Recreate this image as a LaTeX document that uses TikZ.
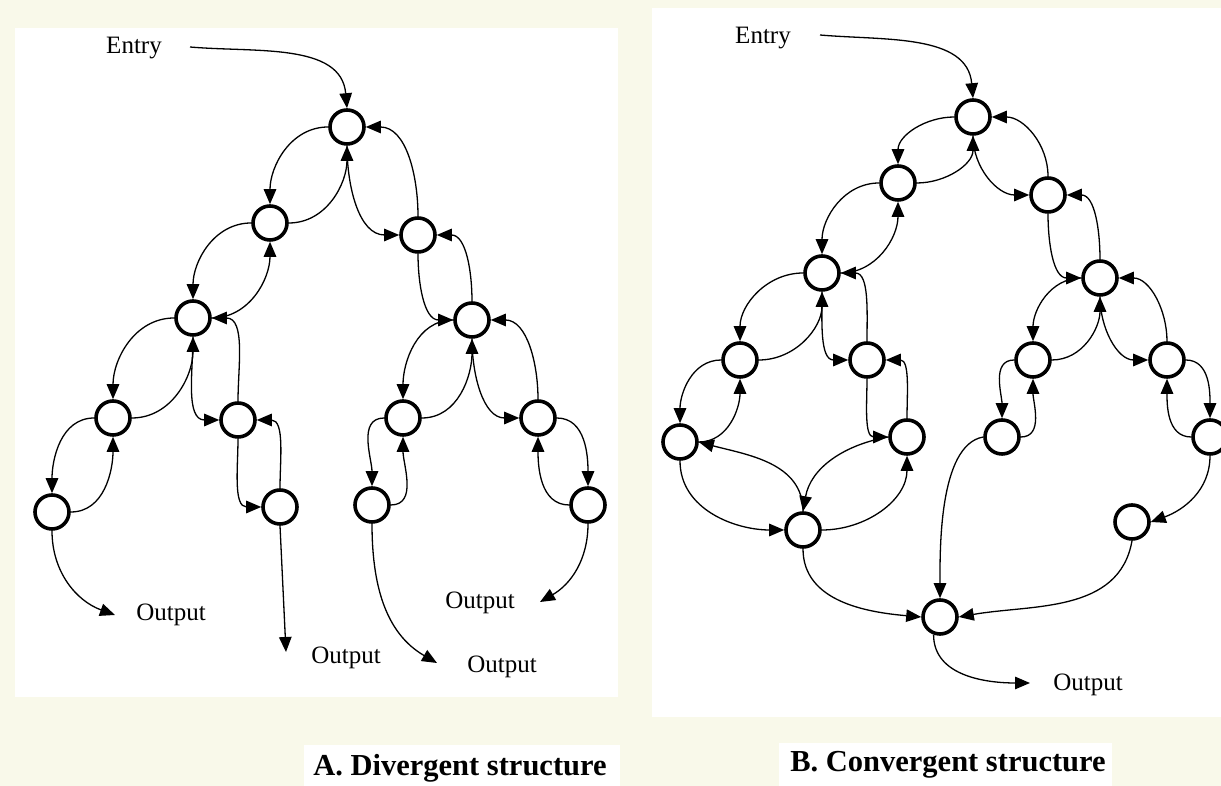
\documentclass[tikz,border=0pt]{standalone}
\usepackage{fontspec}
\setmainfont{Liberation Serif}
\usetikzlibrary{arrows.meta}
\definecolor{pageCream}{RGB}{249,249,234}
% parent to child loops
\newcommand{\LeftLoop}[2]{%
  \draw[flow] (#1.west) to[out=180,in=90] (#2.north);
  \draw[flow] (#2.east) to[out=0,in=-90] (#1.south);}
\newcommand{\RightLoop}[2]{%
  \draw[flow] (#1.south) to[out=-90,in=180] (#2.west);
  \draw[flow] (#2.north) to[out=90,in=0] (#1.east);}
\newcommand{\OuterLoop}[2]{%
  \draw[flow] (#1.east) to[out=0,in=90] (#2.north);
  \draw[flow] (#2.west) to[out=180,in=-90] (#1.south);}

\begin{document}
\begin{tikzpicture}[x=1pt,y=1pt,
  state/.style={circle,draw,line width=3.6pt,minimum size=34pt,inner sep=0pt,fill=white},
  flow/.style={line width=1.3pt,-{Triangle[length=15pt,width=12.5pt]}},
  tag/.style={inner sep=0pt,font=\fontsize{25}{28}\selectfont},
  titletext/.style={inner sep=0pt,font=\bfseries\fontsize{30.5}{34}\selectfont}]
\useasboundingbox (0,0) rectangle (1221,786);
\fill[pageCream] (0,0) rectangle (1221,786);
\fill[white] (15,89) rectangle (618,758);
\fill[white] (652,69) rectangle (1221,778);
\fill[white] (304,0) rectangle (620,41);
\fill[white] (779,0) rectangle (1112,43);

% A. divergent
\node[state] (a1) at (347,659) {};
\node[state] (a2) at (270,563) {};
\node[state] (a3) at (418,551) {};
\node[state] (a4) at (193,468) {};
\node[state] (a5) at (472,466) {};
\node[state] (a6) at (113,368) {};
\node[state] (a7) at (238,366) {};
\node[state] (a8) at (403,368) {};
\node[state] (a9) at (538,368) {};
\node[state] (a10) at (52,274) {};
\node[state] (a11) at (280,279) {};
\node[state] (a12) at (372,281) {};
\node[state] (a13) at (588,281) {};

\node[tag] (eA) at (134,738) {Entry};
\coordinate (sA) at (190,739);
\draw[flow] (sA) to[out=-5,in=95] (a1.north);

\LeftLoop{a1}{a2}
\RightLoop{a1}{a3}
\LeftLoop{a2}{a4}
\RightLoop{a3}{a5}
\LeftLoop{a4}{a6}
\RightLoop{a4}{a7}
\LeftLoop{a5}{a8}
\RightLoop{a5}{a9}
\LeftLoop{a6}{a10}
\RightLoop{a7}{a11}
\LeftLoop{a8}{a12}
\OuterLoop{a9}{a13}

\node[tag] (oA1) at (171,171) {Output};
\node[tag] (oA2) at (346,128) {Output};
\node[tag] (oA3) at (502,119) {Output};
\node[tag] (oA4) at (480,183) {Output};
\coordinate (tA1) at (115,171);
\coordinate (tA2) at (286,134);
\coordinate (tA3) at (437,123);
\coordinate (tA4) at (540,184);
\draw[flow] (a10.south) to[out=-90,in=160] (tA1);
\draw[flow] (a11.south) -- (tA2);
\draw[flow] (a12.south) to[out=-90,in=150] (tA3);
\draw[flow] (a13.south) to[out=-90,in=30] (tA4);

% B. convergent
\node[state] (b1) at (973,669) {};
\node[state] (b2) at (898,603) {};
\node[state] (b3) at (1048,591) {};
\node[state] (b4) at (822,513) {};
\node[state] (b5) at (1100,508) {};
\node[state] (b6) at (740,426) {};
\node[state] (b7) at (867,426) {};
\node[state] (b8) at (1033,426) {};
\node[state] (b9) at (1167,426) {};
\node[state] (b10) at (680,344) {};
\node[state] (b11) at (907,349) {};
\node[state] (b12) at (1002,349) {};
\node[state] (b13) at (1210,349) {};
\node[state] (b14) at (803,256) {};
\node[state] (b15) at (1132,264) {};
\node[state] (b16) at (940,169) {};

\node[tag] (eB) at (763,748) {Entry};
\coordinate (sB) at (820,751);
\draw[flow] (sB) to[out=-5,in=95] (b1.north);

\LeftLoop{b1}{b2}
\RightLoop{b1}{b3}
\LeftLoop{b2}{b4}
\RightLoop{b3}{b5}
\LeftLoop{b4}{b6}
\RightLoop{b4}{b7}
\LeftLoop{b5}{b8}
\RightLoop{b5}{b9}
\LeftLoop{b6}{b10}
\RightLoop{b7}{b11}
\LeftLoop{b8}{b12}
\OuterLoop{b9}{b13}

\draw[flow] (b10.south) to[out=-90,in=180] (b14.west);
\draw[flow] (b14.north) to[out=90,in=-15] (b10.east);
\draw[flow] (b11.west) to[out=190,in=80] (b14.north);
\draw[flow] (b14.east) to[out=0,in=-90] (b11.south);
\draw[flow] (b12.west) to[out=190,in=90,looseness=0.7] (b16.north);
\draw[flow] (b13.south) to[out=-90,in=20] (b15.east);
\draw[flow] (b15.south) to[out=-100,in=10] (b16.east);
\draw[flow] (b14.south) to[out=-90,in=175] (b16.west);

\node[tag] (oB) at (1088,101) {Output};
\coordinate (tB) at (1030,103);
\draw[flow] (b16.250) to[out=-90,in=180] (tB);

\node[titletext] (capA) at (460,18) {A. Divergent structure};
\node[titletext] (capB) at (948,21) {B. Convergent structure};
\end{tikzpicture}
\end{document}
